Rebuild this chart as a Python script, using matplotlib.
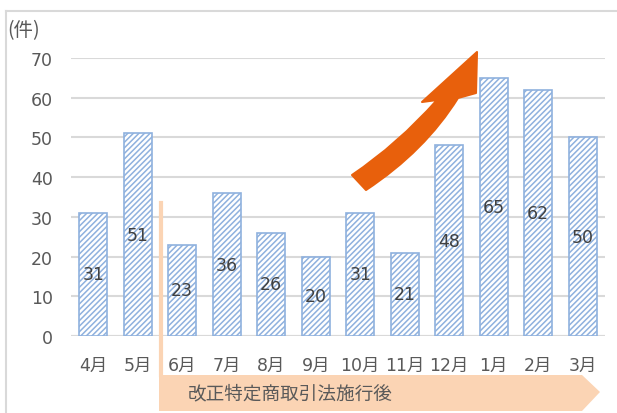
import matplotlib
matplotlib.use("Agg")
import matplotlib.pyplot as plt
from matplotlib.patches import Polygon, PathPatch
from matplotlib.path import Path
from matplotlib.lines import Line2D

plt.rcParams['font.family'] = ['DejaVu Sans', 'Noto Sans CJK JP']
plt.rcParams['hatch.linewidth'] = 1.1

months = ['4月', '5月', '6月', '7月', '8月', '9月', '10月', '11月', '12月', '1月', '2月', '3月']
counts = [31, 51, 23, 36, 26, 20, 31, 21, 48, 65, 62, 50]
yticks = [0, 10, 20, 30, 40, 50, 60, 70]

W, H = 617, 414
fig = plt.figure(figsize=(W / 100, H / 100), dpi=100)
ax = fig.add_axes([71 / W, 1 - 337 / H, (605 - 71) / W, (337 - 59) / H])


def px(x, y):
    return (x / W, 1 - y / H)


blue = '#8FB1DE'
x = range(len(months))
bars = ax.bar(x, counts, width=0.63, color='white', edgecolor=blue,
              hatch='//////', linewidth=1.2, zorder=3)
for xi, v in zip(x, counts):
    ax.text(xi, v / 2, str(v), ha='center', va='center', fontsize=12.5,
            color='#404040', zorder=4)

ax.set_xlim(-0.5, len(months) - 0.5)
ax.set_ylim(0, 70)
ax.set_yticks(yticks)
ax.set_xticks(list(x))
ax.set_xticklabels(months)
ax.tick_params(length=0, labelsize=12.5, colors='#595959')
ax.tick_params(axis='y', pad=13)
ax.tick_params(axis='x', pad=14)
ax.yaxis.grid(True, color='#D9D9D9', linewidth=1.5, zorder=0)
for s in ax.spines.values():
    s.set_visible(False)
ax.axhline(0, color='#D9D9D9', linewidth=1.5, zorder=1)

# outer frame
fig.add_artist(Line2D([6 / W, 6 / W], [0, 1 - 12 / H], transform=fig.transFigure,
                      color='#D9D9D9', linewidth=1.5))
fig.add_artist(Line2D([6 / W, 1], [1 - 12 / H, 1 - 12 / H], transform=fig.transFigure,
                      color='#D9D9D9', linewidth=1.5))

fig.text(7 / W, 1 - 31 / H, '(件)', fontsize=14, color='#595959', va='center', ha='left',
         family=['Noto Sans CJK JP'])

# enforcement marker: vertical line and band
peach = '#FBD4B4'
fig.add_artist(Line2D([161 / W, 161 / W], [1 - 204 / H, 1 - 376 / H],
                      transform=fig.transFigure, color=peach, linewidth=3))
band = Polygon([px(159, 376), px(582, 376), px(600, 393), px(582, 412), px(159, 412)],
               closed=True, transform=fig.transFigure, facecolor=peach,
               edgecolor='none')
fig.add_artist(band)
fig.text(188 / W, 1 - 394 / H, '改正特定商取引法施行後', fontsize=13.4,
         color='#595959', va='center', ha='left')

# orange trend arrow
verts = [px(366, 191), px(425, 152), px(458, 99),
         px(476, 94), px(477, 53), px(422, 103), px(437, 101),
         px(398, 145), px(352, 176), px(366, 191)]
codes = [Path.MOVETO, Path.CURVE3, Path.CURVE3,
         Path.LINETO, Path.LINETO, Path.LINETO, Path.LINETO,
         Path.CURVE3, Path.CURVE3, Path.CLOSEPOLY]
arrow = PathPatch(Path(verts, codes), transform=fig.transFigure,
                  facecolor='#E8600C', edgecolor='#E8600C', linewidth=1.5,
                  joinstyle='round')
fig.add_artist(arrow)

fig.savefig('out.png', dpi=100)
